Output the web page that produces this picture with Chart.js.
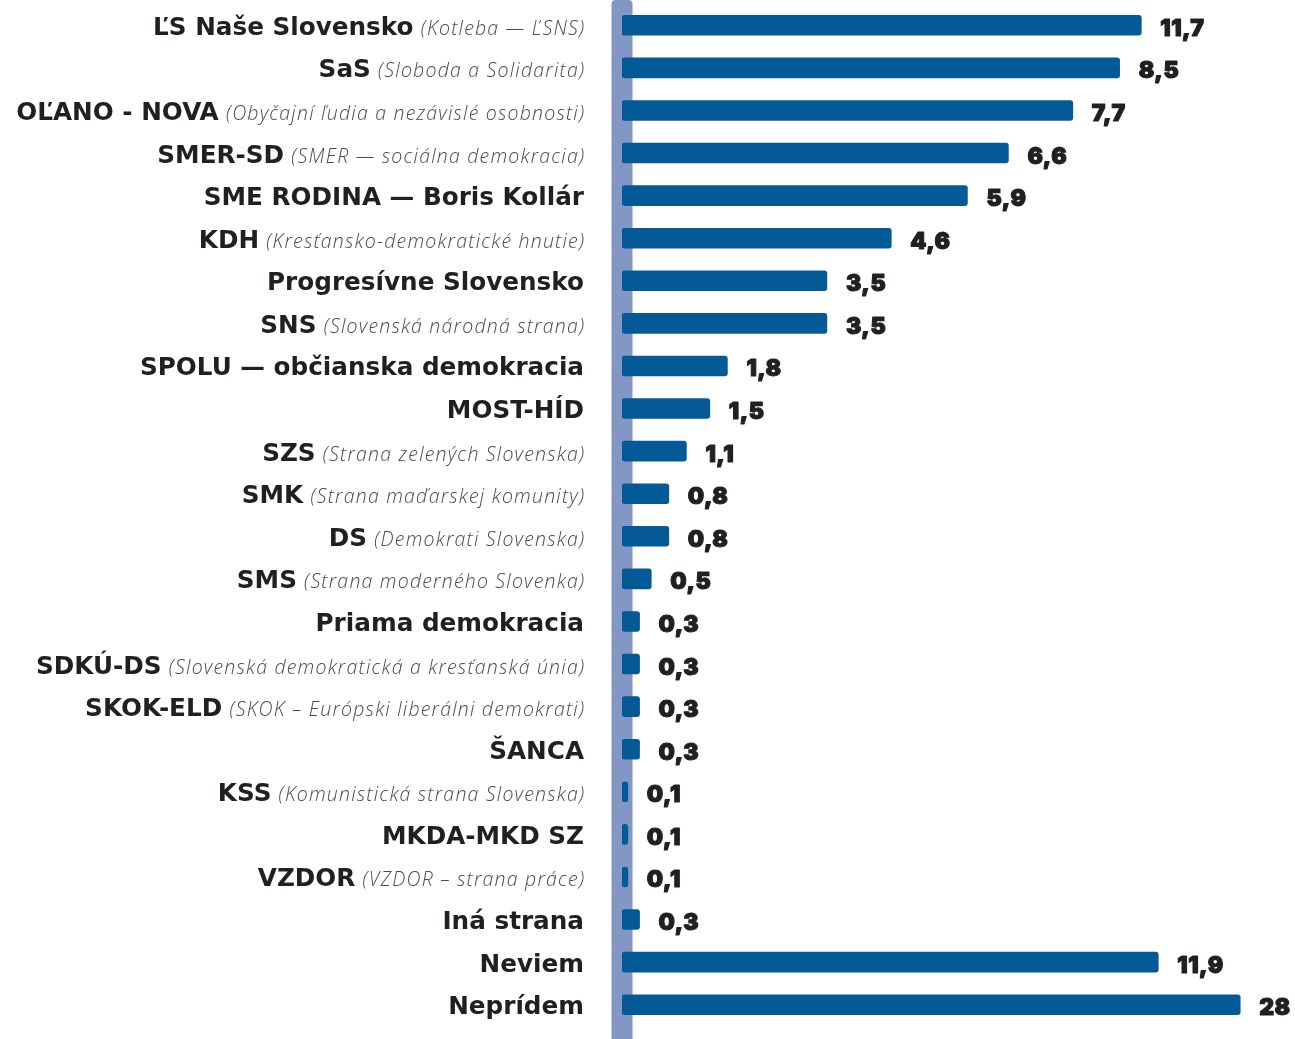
<!DOCTYPE html>
<html><head><meta charset="utf-8">
<script src="https://cdn.jsdelivr.net/npm/chart.js@4.4.0/dist/chart.umd.min.js"></script>
<style>html,body{margin:0;padding:0;background:#fff;overflow:hidden}#wrap{width:1295px;height:1039px}</style>
</head><body><div id="wrap"><canvas id="c" width="1295" height="1039"></canvas></div>
<script>
const partyNames = ["ĽS Naše Slovensko","SaS","OĽANO - NOVA","SMER-SD","SME RODINA — Boris Kollár","KDH","Progresívne Slovensko","SNS","SPOLU — občianska demokracia","MOST-HÍD","SZS","SMK","DS","SMS","Priama demokracia","SDKÚ-DS","SKOK-ELD","ŠANCA","KSS","MKDA-MKD SZ","VZDOR","Iná strana","Neviem","Neprídem"];
const partySubtitles = ["(Kotleba — ĽSNS)","(Sloboda a Solidarita)","(Obyčajní ľudia a nezávislé osobnosti)","(SMER — sociálna demokracia)","","(Kresťansko-demokratické hnutie)","","(Slovenská národná strana)","","","(Strana zelených Slovenska)","(Strana maďarskej komunity)","(Demokrati Slovenska)","(Strana moderného Slovenka)","","(Slovenská demokratická a kresťanská únia)","(SKOK – Európski liberálni demokrati)","","(Komunistická strana Slovenska)","","(VZDOR – strana práce)","","",""];
const values = [11.7,8.5,7.7,6.6,5.9,4.6,3.5,3.5,1.8,1.5,1.1,0.8,0.8,0.5,0.3,0.3,0.3,0.3,0.1,0.1,0.1,0.3,11.9,28];
// bar lengths as drawn in the picture (the three largest bars are visually compressed)
const drawnLengths = [8.87,8.5,7.7,6.6,5.9,4.6,3.5,3.5,1.8,1.5,1.1,0.8,0.8,0.5,0.3,0.3,0.3,0.3,0.1,0.1,0.1,0.3,9.16,10.56];
const valueLabels = values.map(v => String(v).replace('.', ','));

const BOLD = '700 24.7px "DejaVu Sans"';
const ITAL = 'italic 300 19.5px "Open Sans"';
const VALF = '900 23px Inter';

const bandPlugin = {
  id: 'band',
  beforeDatasetsDraw(chart) {
    const ctx = chart.ctx, x0 = chart.scales.x.getPixelForValue(0);
    ctx.save();
    ctx.fillStyle = '#8496c4';
    ctx.beginPath();
    ctx.roundRect(x0 - 10.5, 0, 21, chart.height + 10, [4,4,0,0]);
    ctx.fill();
    ctx.restore();
  }
};
const textPlugin = {
  id: 'texts',
  afterDatasetsDraw(chart) {
    const ctx = chart.ctx, xs = chart.scales.x, ys = chart.scales.y;
    const right = xs.getPixelForValue(0) - 38;
    ctx.save();
    ctx.textBaseline = 'alphabetic';
    partyNames.forEach((name, i) => {
      const y = ys.getPixelForValue(i) + 9.5;
      let x = right;
      ctx.textAlign = 'right';
      if (partySubtitles[i]) {
        ctx.font = ITAL; ctx.fillStyle = '#4a4a4a';
        ctx.letterSpacing = '1.2px';
        ctx.fillText(partySubtitles[i], x + 1.2, y);
        x -= ctx.measureText(partySubtitles[i]).width + 6;
        ctx.letterSpacing = '0px';
      }
      ctx.font = BOLD; ctx.fillStyle = '#231f20';
      ctx.fillText(name, x, y);
      // value label
      ctx.textAlign = 'left';
      ctx.font = VALF; ctx.fillStyle = '#231f20'; ctx.strokeStyle = '#231f20';
      ctx.lineWidth = 1.1; ctx.lineJoin = 'round';
      ctx.letterSpacing = '0.5px';
      const vx = xs.getPixelForValue(drawnLengths[i]) + 19;
      ctx.fillText(valueLabels[i], vx, y + 1);
      ctx.strokeText(valueLabels[i], vx, y + 1);
      ctx.letterSpacing = '0px';
    });
    ctx.restore();
  }
};

new Chart(document.getElementById('c'), {
  type: 'bar',
  data: { labels: partyNames, datasets: [{ data: drawnLengths, backgroundColor: '#035a97', borderRadius: 3, borderSkipped: false, barThickness: 20 }] },
  options: {
    indexAxis: 'y', responsive: false, animation: false,
    layout: { padding: { left: 622, right: 29, top: 4, bottom: 13 } },
    plugins: { legend: { display: false }, tooltip: { enabled: false } },
    scales: { x: { display: false, min: 0, max: 11 }, y: { display: false } }
  },
  plugins: [bandPlugin, textPlugin]
});
</script></body></html>
